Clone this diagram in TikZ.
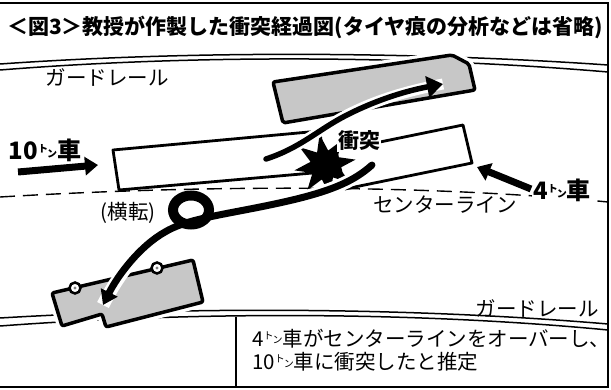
\documentclass[tikz,border=0pt]{standalone}
\usepackage{fontspec}
\newfontfamily\jp{Noto Sans CJK JP}
\usetikzlibrary{arrows.meta,shapes.geometric}
% small raised "トン" used after tonnage figures
\newcommand\tonmark{{\fontsize{10}{10}\selectfont\raisebox{7pt}{ト}\kern-1pt\raisebox{2pt}{ン}}}

\begin{document}
\begin{tikzpicture}[x=1pt,y=-1pt,
  frame/.style={line width=1.5pt},
  rail/.style={line width=1.5pt},
  centerline/.style={line width=1.4pt,dash pattern=on 15pt off 8pt},
  truckbox/.style={draw,line width=2.8pt,fill=white,line join=round},
  wreck/.style={draw,line width=3.5pt,fill=black!22,line join=round,rounded corners=2pt,
                preaction={draw=white,line width=10pt}},
  halo/.style={preaction={draw=white,line width=#1,-}},
  track/.style={line width=#1,line cap=round},
  heavyarrow/.style={line width=7pt,-{Triangle[length=13pt,width=18pt]}},
  lbl/.style={font=\jp\fontsize{20.5}{22}\selectfont,inner sep=1pt},
  boldlbl/.style={font=\jp\bfseries\fontsize{21}{22}\selectfont,inner sep=1pt},
  biglbl/.style={font=\jp\bfseries\fontsize{24}{26}\selectfont,inner sep=1pt},
  wheel/.style={circle,draw,line width=2.5pt,fill=white,minimum size=11pt,inner sep=0pt},
]
\useasboundingbox (0,0) rectangle (611,390);

% outer frame
\draw[frame] (0,3) -- (608,3) -- (608,387) -- (0,387);

% title
\node[font=\jp\bfseries\fontsize{21}{24}\selectfont,inner sep=0pt] (title) at (305,27)
  {＜図3＞教授が作製した衝突経過図(タイヤ痕の分析などは省略)};

% guardrails and centre line
\draw[rail] (0,64) .. controls (200,50) and (420,52) .. (608,65);
\draw[rail] (0,70) .. controls (200,54) and (420,56) .. (608,72);
\draw[rail] (0,318) .. controls (200,306) and (420,308) .. (608,324);
\draw[rail] (0,326) .. controls (200,311) and (420,312) .. (608,330);
\draw[centerline] (0,197) .. controls (200,185) and (420,184) .. (608,202);

% caption box side
\draw[frame] (236,317) -- (236,387);

% 10-ton truck
\draw[truckbox] (113,150) -- (320,131) -- (324,172) -- (119,190) -- cycle;

% 4-ton truck, final position (upper)
\draw[wreck] (273,82) -- (452,55) -- (469,64) -- (475,90) -- (283,123) -- cycle;

% 4-ton truck at impact
\draw[truckbox] (336,151) -- (463,125) -- (472,163) -- (345,189) -- cycle;

% 4-ton truck, final position (lower)
\draw[wreck] (52,293) -- (62,326) -- (102,314) -- (106,327) -- (203,302) -- (193,260) -- cycle;
\node[wheel] (wheelA) at (75,288) {};
\node[wheel] (wheelB) at (157,268) {};
\fill[black!50] (wheelA) circle (1.6pt) (wheelB) circle (1.6pt);

% impact
\node[star,star points=8,star point ratio=2.1,minimum size=62pt,fill=black,inner sep=0pt,rotate=10] (crash) at (325,165) {};
\node[boldlbl,fill=white] (crashlbl) at (359,141) {衝突};

% tracks
\coordinate (upStart) at (266,159);
\coordinate (upMid) at (345,116);
\coordinate (upEnd) at (443,84);
\draw[track=5.5pt,halo=11pt,-{Triangle[length=16pt,width=21pt]}]
  (upStart) .. controls (300,148) and (318,130) .. (upMid)
            .. controls (370,103) and (400,92) .. (upEnd);

\coordinate (lowStart) at (372,165);
\coordinate (lowA) at (260,207);
\coordinate (lowB) at (165,232);
\coordinate (lowEnd) at (103,305);
\draw[track=7pt,halo=13pt,-{Triangle[length=14pt,width=18pt]}]
  (lowStart) .. controls (350,185) and (320,195) .. (lowA)
             .. controls (215,216) and (185,220) .. (lowB)
             .. controls (140,246) and (118,275) .. (lowEnd);
\node[ellipse,draw,line width=10pt,minimum width=36pt,minimum height=29pt,inner sep=0pt] (roll) at (191,210) {};

% approach arrows
\coordinate (tenTail) at (18,172);
\coordinate (tenTip) at (98,165);
\draw[heavyarrow] (tenTail) -- (tenTip);
\node[biglbl,fill=white] (fourlbl) at (562,190) {4\tonmark 車};
\coordinate (fourTail) at (531,189);
\coordinate (fourTip) at (477,167);
\draw[heavyarrow] (fourTail) -- (fourTip);

% labels
\node[biglbl] (tenlbl) at (45,150) {10\tonmark 車};
\node[lbl] (rolllbl) at (128,213) {(横転)};
\node[lbl] (cllbl) at (445,205) {センターライン};
\node[lbl] (railtop) at (107,77) {ガードレール};
\node[lbl] (railbot) at (537,308) {ガードレール};
\node[lbl,anchor=base west] (capA) at (251,346) {4\tonmark 車がセンターラインをオーバーし、};
\node[lbl,anchor=base west] (capB) at (251,370) {10\tonmark 車に衝突したと推定};
\end{tikzpicture}
\end{document}
